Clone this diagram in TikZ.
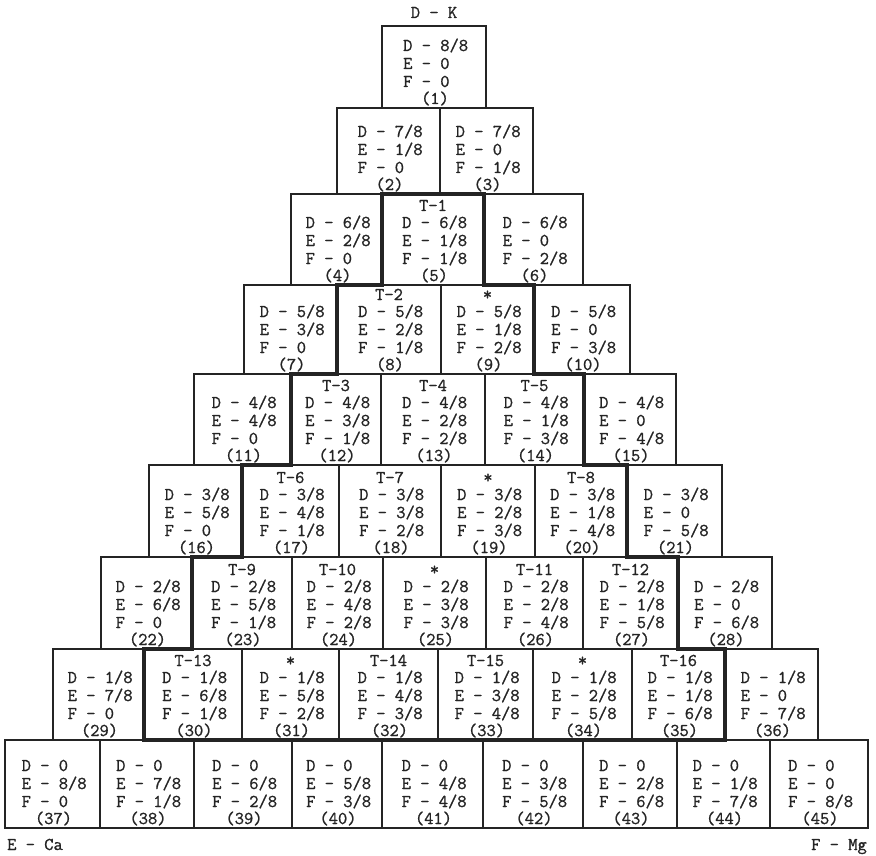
\documentclass[tikz,border=0pt]{standalone}
\usepackage{fontspec}
\newfontfamily\twfont{Latin Modern Mono}[FakeBold=1]
\definecolor{ink}{HTML}{242424}
\tikzset{
  cell/.style={draw=ink, line width=1.5pt, inner sep=0pt, outer sep=0pt},
  txt/.style={font=\twfont\bfseries\fontsize{18}{18}\selectfont, text=ink, inner sep=0pt, anchor=base west},
  tag/.style={font=\twfont\bfseries\fontsize{18}{18}\selectfont, text=ink, inner sep=0pt, anchor=base},
  outline/.style={draw=ink, line width=4.5pt, line join=miter}
}
% #1 number, #2 x-left, #3 x-right, #4 top, #5 bottom, #6 tag, #7 D, #8 E, #9 F
\newcommand{\bx}[9]{%
  \pgfmathsetmacro\cellx{(#2+#3)/2}%
  \pgfmathsetmacro\celly{(#4+#5)/2}%
  \pgfmathsetmacro\cellw{#3-#2}%
  \pgfmathsetmacro\cellh{#5-#4}%
  \node[cell, minimum width=\cellw pt, minimum height=\cellh pt] (b#1) at (\cellx,\celly) {};
  \node[tag] (b#1t) at (\cellx,#5-74) {#6};
  \node[txt] (b#1d) at (\cellx-31,#5-57) {D - #7};
  \node[txt] (b#1e) at (\cellx-31,#5-39) {E - #8};
  \node[txt] (b#1f) at (\cellx-31,#5-21) {F - #9};
  \node[tag] (b#1n) at (\cellx+1,#5-4) {(#1)};
}
\begin{document}
\begin{tikzpicture}[x=1pt,y=-1pt]
\fill[white] (0,0) rectangle (876,856);
\useasboundingbox (0,0) rectangle (876,856);
% row 1
\bx{1}{382}{486}{26}{108}{}{8/8}{0}{0}
% row 2
\bx{2}{337}{440}{108}{194}{}{7/8}{1/8}{0}
\bx{3}{440}{533}{108}{194}{}{7/8}{0}{1/8}
% row 3
\bx{4}{291}{382}{194}{285}{}{6/8}{2/8}{0}
\bx{5}{382}{484}{194}{285}{T-1}{6/8}{1/8}{1/8}
\bx{6}{484}{583}{194}{285}{}{6/8}{0}{2/8}
% row 4
\bx{7}{244}{337}{285}{374}{}{5/8}{3/8}{0}
\bx{8}{337}{441}{285}{374}{T-2}{5/8}{2/8}{1/8}
\bx{9}{441}{534}{285}{374}{*}{5/8}{1/8}{2/8}
\bx{10}{534}{630}{285}{374}{}{5/8}{0}{3/8}
% row 5
\bx{11}{194}{291}{374}{465}{}{4/8}{4/8}{0}
\bx{12}{291}{381}{374}{465}{T-3}{4/8}{3/8}{1/8}
\bx{13}{381}{485}{374}{465}{T-4}{4/8}{2/8}{2/8}
\bx{14}{485}{584}{374}{465}{T-5}{4/8}{1/8}{3/8}
\bx{15}{584}{676}{374}{465}{}{4/8}{0}{4/8}
% row 6
\bx{16}{149}{242}{465}{557}{}{3/8}{5/8}{0}
\bx{17}{242}{339}{465}{557}{T-6}{3/8}{4/8}{1/8}
\bx{18}{339}{441}{465}{557}{T-7}{3/8}{3/8}{2/8}
\bx{19}{441}{535}{465}{557}{*}{3/8}{2/8}{3/8}
\bx{20}{535}{627}{465}{557}{T-8}{3/8}{1/8}{4/8}
\bx{21}{627}{722}{465}{557}{}{3/8}{0}{5/8}
% row 7
\bx{22}{101}{192}{557}{649}{}{2/8}{6/8}{0}
\bx{23}{192}{292}{557}{649}{T-9}{2/8}{5/8}{1/8}
\bx{24}{292}{383}{557}{649}{T-10}{2/8}{4/8}{2/8}
\bx{25}{383}{486}{557}{649}{*}{2/8}{3/8}{3/8}
\bx{26}{486}{583}{557}{649}{T-11}{2/8}{2/8}{4/8}
\bx{27}{583}{678}{557}{649}{T-12}{2/8}{1/8}{5/8}
\bx{28}{678}{772}{557}{649}{}{2/8}{0}{6/8}
% row 8
\bx{29}{53}{144}{649}{740}{}{1/8}{7/8}{0}
\bx{30}{144}{242}{649}{740}{T-13}{1/8}{6/8}{1/8}
\bx{31}{242}{339}{649}{740}{*}{1/8}{5/8}{2/8}
\bx{32}{339}{438}{649}{740}{T-14}{1/8}{4/8}{3/8}
\bx{33}{438}{533}{649}{740}{T-15}{1/8}{3/8}{4/8}
\bx{34}{533}{632}{649}{740}{*}{1/8}{2/8}{5/8}
\bx{35}{632}{725}{649}{740}{T-16}{1/8}{1/8}{6/8}
\bx{36}{725}{818}{649}{740}{}{1/8}{0}{7/8}
% row 9
\bx{37}{5}{100}{740}{828}{}{0}{8/8}{0}
\bx{38}{100}{194}{740}{828}{}{0}{7/8}{1/8}
\bx{39}{194}{292}{740}{828}{}{0}{6/8}{2/8}
\bx{40}{292}{382}{740}{828}{}{0}{5/8}{3/8}
\bx{41}{382}{483}{740}{828}{}{0}{4/8}{4/8}
\bx{42}{483}{583}{740}{828}{}{0}{3/8}{5/8}
\bx{43}{583}{677}{740}{828}{}{0}{2/8}{6/8}
\bx{44}{677}{770}{740}{828}{}{0}{1/8}{7/8}
\bx{45}{770}{868}{740}{828}{}{0}{0}{8/8}
% thick outline of the inner region
\draw[outline] (b5.north west) -- (b5.north east) -- (b5.south east)
  -- (b9.north east) -- (b9.south east)
  -- (b14.north east) -- (b14.south east)
  -- (b20.north east) -- (b20.south east)
  -- (b27.north east) -- (b27.south east)
  -- (b35.north east) -- (b35.south east)
  -- (b30.south west) -- (b30.north west)
  -- (b23.south west) -- (b23.north west)
  -- (b17.south west) -- (b17.north west)
  -- (b12.south west) -- (b12.north west)
  -- (b8.south west) -- (b8.north west)
  -- (b5.south west) -- cycle;
% corner labels
\node[tag] (dk) at (434,18) {D - K};
\node[txt] (ca) at (7,850) {E - Ca};
\node[tag, anchor=base east] (mg) at (867,850) {F - Mg};
\end{tikzpicture}
\end{document}
